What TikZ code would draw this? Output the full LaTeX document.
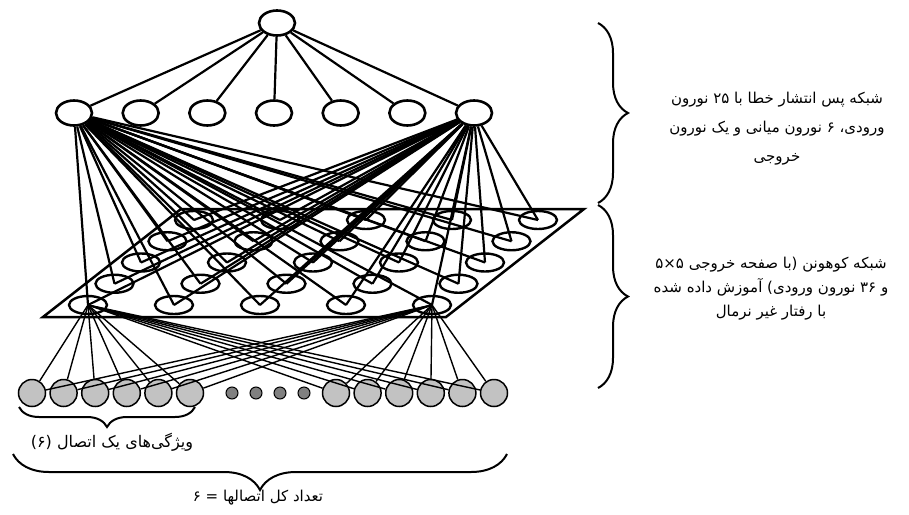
\documentclass[tikz,border=0pt]{standalone}
\usepackage{fontspec}
\newfontfamily\arabicfont[Script=Arabic]{DejaVu Sans}
\TeXXeTstate=1
\usetikzlibrary{shapes.geometric,decorations.pathreplacing}
\definecolor{inGray}{gray}{0.76}
\definecolor{dotGray}{gray}{0.5}
\tikzset{
  neuron/.style={draw,ellipse,line width=2.6pt,inner sep=0pt,minimum width=36pt,minimum height=25pt},
  kohonen/.style={draw,ellipse,line width=2.4pt,inner sep=0pt,minimum width=38pt,minimum height=18pt},
  inputcell/.style={draw,circle,line width=1.5pt,fill=inGray,inner sep=0pt,minimum size=27pt},
  gapdot/.style={draw,circle,line width=1pt,fill=dotGray,inner sep=0pt,minimum size=12pt},
  wire/.style={line width=2.2pt},
  thinwire/.style={line width=1.4pt},
  bracket/.style={decorate,line width=2pt,decoration={brace,amplitude=#1}},
  caption/.style={font=\arabicfont\fontsize{15}{#1}\selectfont,align=center,inner sep=0pt}
}
\begin{document}
\begin{tikzpicture}[x=1pt,y=-1pt]
\useasboundingbox (0,0) rectangle (909,514);
% output neuron and hidden layer
\node[neuron](out)at(277,23){};
\foreach \i in {1,...,7}
  \node[neuron](h\i)at({74+66.67*(\i-1)},113){};
% kohonen plane with its 5x5 grid
\coordinate(pBL)at(43,317);
\coordinate(pBR)at(446,317);
\coordinate(pTR)at(584,209);
\coordinate(pTL)at(181,209);
\draw[line width=2.5pt](pBL)--(pBR)--(pTR)--(pTL)--cycle;
\foreach \i in {0,...,4}
  \foreach \j in {0,...,4}
    \node[kohonen](g\i\j)at({88+86*\i+26.5*\j},{305-21.25*\j}){};
% input cells
\foreach \k in {1,...,6}{
  \node[inputcell](inL\k)at({32+31.6*(\k-1)},393){};
  \node[inputcell](inR\k)at({336+31.6*(\k-1)},393){};
}
\foreach \x[count=\n] in {232,256,280,304}
  \node[gapdot](dot\n)at(\x,393){};
% connections
\foreach \i in {1,...,7}
  \draw[wire](out)--(h\i);
\foreach \i in {0,...,4}
  \foreach \j in {0,...,4}{
    \draw[wire](h1)--(g\i\j.center);
    \draw[wire](h7)--(g\i\j.center);
  }
\foreach \g in {g00,g40}
  \foreach \k in {1,...,6}{
    \draw[thinwire](\g.center)--(inL\k);
    \draw[thinwire](\g.center)--(inR\k);
  }
% braces
\draw[bracket=30pt](598,23)--(598,203);
\draw[bracket=30pt](598,205)--(598,388);
\draw[bracket=20pt](195,407)--(19,407);
\draw[bracket=36pt](507,454)--(13,454);
% labels
\node[caption=29pt](bpText)at(777,129){\beginR شبکه پس انتشار خطا با ۲۵ نورون\endR\\
  \beginR ورودی، ۶ نورون میانی و یک نورون\endR\\\beginR خروجی\endR};
\node[caption=24pt](somText)at(771,289){\beginR شبکه کوهونن (با صفحه خروجی ۵×۵\endR\\
  \beginR و ۳۶ نورون ورودی) آموزش داده شده\endR\\\beginR با رفتار غیر نرمال\endR};
\node[caption=14pt,font=\arabicfont\fontsize{16}{18}\selectfont](oneText)at(112,442){\beginR ویژگی‌های یک اتصال \beginL(۶)\endL\endR};
\node[caption=14pt](allText)at(258,498){\beginR تعداد کل اتصالها = ۶\endR};
\end{tikzpicture}
\end{document}
